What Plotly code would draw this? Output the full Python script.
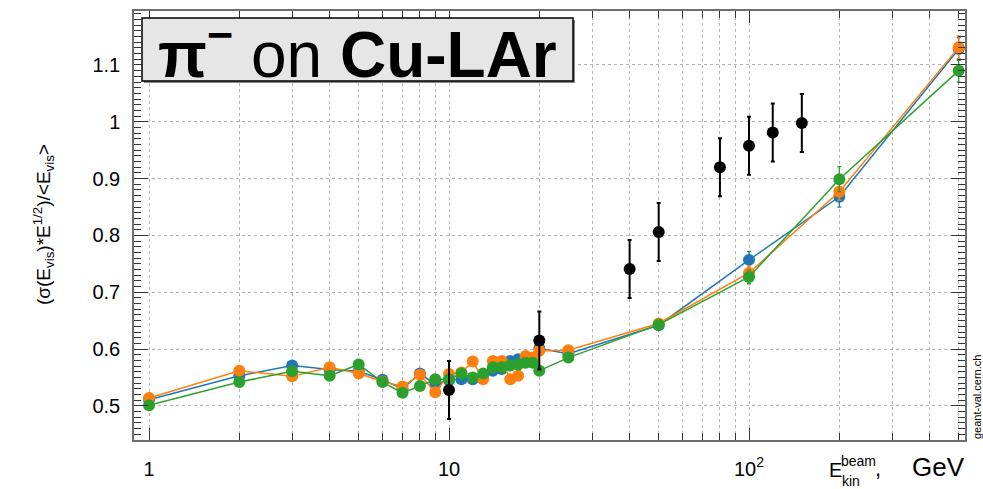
import plotly.graph_objects as go

# ---------------- data ----------------
energies = [1, 2, 3, 4, 5, 6, 7, 8, 9, 10, 11, 12, 13, 14, 15, 16, 17, 18, 19, 20, 25, 50, 100, 200, 500]

blue_vals = [0.511, 0.553, 0.571, 0.564, 0.561, 0.546, 0.530, 0.557, 0.538, 0.545, 0.547, 0.547, 0.553,
             0.562, 0.565, 0.579, 0.582, 0.579, 0.582, 0.601, 0.592, 0.642, 0.757, 0.868, 1.128]
blue_errs = [0.006, 0.006, 0.008, 0.006, 0.006, 0.006, 0.006, 0.006, 0.006, 0.006, 0.006, 0.006, 0.006,
             0.006, 0.006, 0.006, 0.006, 0.006, 0.006, 0.006, 0.006, 0.007, 0.015, 0.018, 0.020]

orange_vals = [0.514, 0.562, 0.552, 0.568, 0.557, 0.543, 0.534, 0.555, 0.524, 0.556, 0.559, 0.578, 0.547,
               0.579, 0.579, 0.547, 0.553, 0.588, 0.585, 0.597, 0.598, 0.645, 0.734, 0.877, 1.131]
orange_errs = [0.006, 0.006, 0.006, 0.006, 0.006, 0.006, 0.006, 0.006, 0.006, 0.006, 0.006, 0.006, 0.006,
               0.006, 0.006, 0.006, 0.006, 0.006, 0.006, 0.006, 0.006, 0.007, 0.012, 0.015, 0.020]

green_vals = [0.501, 0.542, 0.561, 0.553, 0.573, 0.542, 0.523, 0.535, 0.547, 0.547, 0.557, 0.550, 0.557,
              0.568, 0.568, 0.571, 0.573, 0.576, 0.576, 0.562, 0.585, 0.643, 0.727, 0.899, 1.090]
green_errs = [0.006, 0.006, 0.006, 0.006, 0.006, 0.006, 0.006, 0.006, 0.006, 0.006, 0.006, 0.006, 0.006,
              0.006, 0.006, 0.006, 0.006, 0.006, 0.006, 0.006, 0.006, 0.007, 0.012, 0.022, 0.020]

exp_energies = [10, 20, 40, 50, 80, 100, 120, 150]
exp_vals = [0.528, 0.615, 0.741, 0.806, 0.920, 0.958, 0.981, 0.998]
exp_errs = [0.051, 0.051, 0.051, 0.051, 0.051, 0.051, 0.051, 0.051]

x_tick_vals = [1, 10, 100]
x_tick_text = ["1", "10", "10<sup>2</sup>"]

# ---------------- layout geometry ----------------
W, H = 983, 489
L, R, T, B = 134, 18, 9, 45
PW, PH = W - L - R, H - T - B


def px(xp):
    return (xp - L) / PW


def py(yp):
    return (H - B - yp) / PH


FONT = "Liberation Sans, Arial, Helvetica, sans-serif"
FRAME = "#6e6e6e"
TICK = "#333333"
GRID = "#b4b4b4"

fig = go.Figure()


def add_series(xs, ys, errs, color, lw, msize, ethick, ewidth, mode="lines+markers"):
    fig.add_trace(go.Scatter(
        x=xs, y=ys, mode=mode,
        line=dict(color=color, width=lw),
        marker=dict(color=color, size=msize, symbol="circle"),
        error_y=dict(type="data", array=errs, visible=True, color=color,
                     thickness=ethick, width=ewidth),
        showlegend=False, cliponaxis=False,
    ))


add_series(energies, blue_vals, blue_errs, "#1f77b4", 1.5, 12, 1.3, 2)
add_series(energies, orange_vals, orange_errs, "#ff7f0e", 1.5, 12, 1.3, 2)
add_series(energies, green_vals, green_errs, "#2ca02c", 1.5, 12, 1.3, 2)
add_series(exp_energies, exp_vals, exp_errs, "#000000", 0, 12, 2, 2, mode="markers")

minor_x = [m * d for d in (1, 10, 100) for m in range(2, 10) if m * d <= 540]

fig.update_xaxes(
    type="log", range=[-0.05, 2.72],
    tickvals=x_tick_vals, ticktext=x_tick_text,
    ticks="inside", ticklen=12, tickwidth=1.3, tickcolor=TICK,
    showline=True, linecolor=FRAME, linewidth=1.5, mirror="allticks",
    showgrid=True, gridcolor=GRID, griddash="dot", gridwidth=1,
    zeroline=False,
    tickfont=dict(family=FONT, size=20, color="black"),
    ticklabelstandoff=10,
    minor=dict(tickvals=minor_x, ticks="inside", ticklen=7, tickwidth=1.3, tickcolor=TICK,
               showgrid=True, gridcolor=GRID, griddash="dot", gridwidth=1),
)

fig.update_yaxes(
    range=[0.44, 1.195], tick0=0.5, dtick=0.1,
    ticks="inside", ticklen=14, tickwidth=1.3, tickcolor=TICK,
    showline=True, linecolor=FRAME, linewidth=1.5, mirror="allticks",
    showgrid=True, gridcolor=GRID, griddash="dot", gridwidth=1,
    zeroline=False,
    tickfont=dict(family=FONT, size=20, color="black"),
    ticklabelstandoff=8,
    minor=dict(tickmode="linear", dtick=0.01, tick0=0.5, ticks="inside", ticklen=7, tickwidth=1.3,
               tickcolor=TICK, showgrid=False),
)

# title box
fig.add_shape(type="rect", xref="paper", yref="paper",
              x0=px(144), x1=px(575), y0=py(82), y1=py(18),
              fillcolor="#888888", line=dict(width=0), layer="above")
fig.add_shape(type="rect", xref="paper", yref="paper",
              x0=px(142), x1=px(573), y0=py(80), y1=py(16),
              fillcolor="#e6e6e6", line=dict(color="black", width=1.5), layer="above")

annotations = [
    dict(text="<b>π</b><sup><b>−</b></sup> on <b>Cu-LAr</b>", x=px(357), y=py(49),
         xanchor="center", yanchor="middle", font=dict(family=FONT, size=64, color="black")),
    dict(text="(σ(E<sub>vis</sub>)*E<sup>1/2</sup>)/<E<sub>vis</sub>>", x=px(43), y=py(226),
         xanchor="center", yanchor="middle", textangle=-90,
         font=dict(family=FONT, size=19, color="black")),
    dict(text="E", x=px(828), y=py(487), xanchor="left", yanchor="bottom",
         font=dict(family=FONT, size=20, color="black")),
    dict(text="beam", x=px(840), y=py(474), xanchor="left", yanchor="bottom",
         font=dict(family=FONT, size=14, color="black")),
    dict(text="kin", x=px(841), y=py(495), xanchor="left", yanchor="bottom",
         font=dict(family=FONT, size=14, color="black")),
    dict(text=",", x=px(874), y=py(487), xanchor="left", yanchor="bottom",
         font=dict(family=FONT, size=22, color="black")),
    dict(text="GeV", x=px(966), y=py(488), xanchor="right", yanchor="bottom",
         font=dict(family=FONT, size=26, color="black")),
    dict(text="geant-val.cern.ch", x=px(977), y=py(444), xanchor="center", yanchor="bottom",
         textangle=-90, font=dict(family=FONT, size=11, color="black")),
]
for a in annotations:
    a.update(xref="paper", yref="paper", showarrow=False, borderpad=0)
fig.update_layout(annotations=annotations)

fig.update_layout(
    width=W, height=H,
    margin=dict(l=L, r=R, t=T, b=B, pad=0),
    paper_bgcolor="white", plot_bgcolor="white",
    showlegend=False,
)

fig.write_html("out.html")
